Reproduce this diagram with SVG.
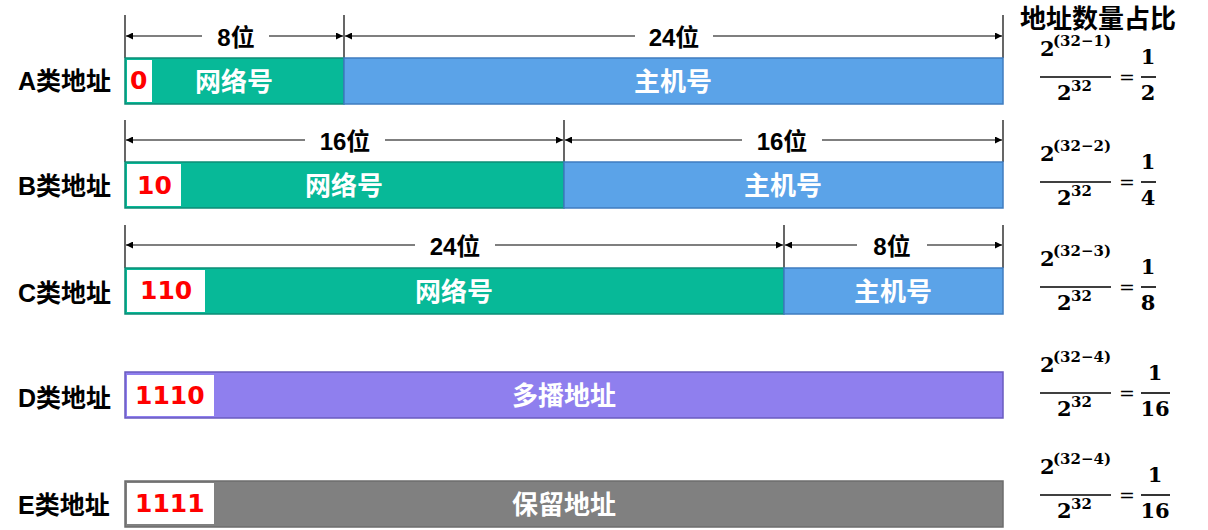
<svg xmlns="http://www.w3.org/2000/svg" width="1208" height="530" viewBox="0 0 1208 530">
<defs>
<marker id="ah" viewBox="0 0 10 10" refX="10" refY="5" markerWidth="8" markerHeight="7" markerUnits="userSpaceOnUse" orient="auto-start-reverse">
<path d="M0,0 L10,5 L0,10 z" fill="#000"/>
</marker>
<style>
.lbl{font-family:"Liberation Sans","Noto Sans CJK SC",sans-serif;font-weight:bold;font-size:25px;fill:#000}
.bit{font-family:"Liberation Sans","Noto Sans CJK SC",sans-serif;font-weight:bold;font-size:24px;fill:#000;text-anchor:middle}
.in{font-family:"Noto Sans CJK SC",sans-serif;font-weight:bold;font-size:26px;fill:#fff;text-anchor:middle}
.red{font-family:"DejaVu Sans",sans-serif;font-weight:bold;font-size:25px;fill:#ff0000}
.tick{stroke:#000;stroke-width:1.2}
.dim{stroke:#000;stroke-width:1.2;fill:none}
.net{fill:#07b998;stroke:#0c8d76;stroke-width:1.5}
.host{fill:#5ba3e8;stroke:#3f7cc0;stroke-width:1.5}
.multi{fill:#8f7fee;stroke:#6a5bc0;stroke-width:1.5}
.res{fill:#808080;stroke:#6c6c6c;stroke-width:1.5}
.wb{fill:#fff}
.m{font-family:"DejaVu Serif","Liberation Serif",serif;font-weight:bold;fill:#000}
.mb{font-size:21px}
.ms{font-size:15px}
.eq{font-family:"DejaVu Serif",serif;font-size:19px;fill:#000}
.fl{stroke:#000;stroke-width:1.6}
</style>
</defs>

<text id="title" class="lbl" x="1020" y="28" style="font-size:26px">地址数量占比</text>

<g id="connectors">
<line class="tick" x1="125" y1="15" x2="125" y2="58"/>
<line class="tick" x1="344" y1="15" x2="344" y2="58"/>
<line class="tick" x1="1003" y1="15" x2="1003" y2="58"/>
<line class="dim" x1="202" y1="36" x2="126" y2="36" marker-end="url(#ah)"/>
<line class="dim" x1="269" y1="36" x2="343" y2="36" marker-end="url(#ah)"/>
<line class="dim" x1="635" y1="36" x2="345" y2="36" marker-end="url(#ah)"/>
<line class="dim" x1="713" y1="36" x2="1002" y2="36" marker-end="url(#ah)"/>
<line class="tick" x1="125" y1="120" x2="125" y2="162"/>
<line class="tick" x1="564" y1="120" x2="564" y2="162"/>
<line class="tick" x1="1003" y1="120" x2="1003" y2="162"/>
<line class="dim" x1="305" y1="140" x2="126" y2="140" marker-end="url(#ah)"/>
<line class="dim" x1="385" y1="140" x2="563" y2="140" marker-end="url(#ah)"/>
<line class="dim" x1="742" y1="140" x2="565" y2="140" marker-end="url(#ah)"/>
<line class="dim" x1="822" y1="140" x2="1002" y2="140" marker-end="url(#ah)"/>
<line class="tick" x1="125" y1="225" x2="125" y2="268"/>
<line class="tick" x1="784" y1="225" x2="784" y2="268"/>
<line class="tick" x1="1003" y1="225" x2="1003" y2="268"/>
<line class="dim" x1="415" y1="245" x2="126" y2="245" marker-end="url(#ah)"/>
<line class="dim" x1="495" y1="245" x2="783" y2="245" marker-end="url(#ah)"/>
<line class="dim" x1="857" y1="245" x2="785" y2="245" marker-end="url(#ah)"/>
<line class="dim" x1="927" y1="245" x2="1002" y2="245" marker-end="url(#ah)"/>
</g>

<g id="bits">
<text class="bit" x="236" y="46">8位</text>
<text class="bit" x="674" y="46">24位</text>
<text class="bit" x="345" y="150">16位</text>
<text class="bit" x="782" y="150">16位</text>
<text class="bit" x="455" y="255">24位</text>
<text class="bit" x="892" y="255">8位</text>
</g>

<g id="rowA">
<text class="lbl" x="18" y="90">A类地址</text>
<rect class="net" x="125" y="58" width="219" height="46"/>
<rect class="host" x="344" y="58" width="659" height="46"/>
<rect class="wb" x="127" y="60" width="25" height="42"/>
<text class="red" x="130" y="89">0</text>
<text class="in" x="234" y="91">网络号</text>
<text class="in" x="673" y="91">主机号</text>
</g>

<g id="rowB">
<text class="lbl" x="18" y="195">B类地址</text>
<rect class="net" x="125" y="162" width="439" height="46"/>
<rect class="host" x="564" y="162" width="439" height="46"/>
<rect class="wb" x="127" y="164" width="54" height="42"/>
<text class="red" x="137" y="194">10</text>
<text class="in" x="344" y="195">网络号</text>
<text class="in" x="783" y="195">主机号</text>
</g>

<g id="rowC">
<text class="lbl" x="18" y="302">C类地址</text>
<rect class="net" x="125" y="268" width="659" height="46"/>
<rect class="host" x="784" y="268" width="219" height="46"/>
<rect class="wb" x="127" y="270" width="78" height="42"/>
<text class="red" x="140" y="299">110</text>
<text class="in" x="454" y="301">网络号</text>
<text class="in" x="893" y="301">主机号</text>
</g>

<g id="rowD">
<text class="lbl" x="18" y="407">D类地址</text>
<rect class="multi" x="125" y="372" width="878" height="46"/>
<rect class="wb" x="127" y="375" width="87" height="41"/>
<text class="red" x="135" y="404">1110</text>
<text class="in" x="564" y="405">多播地址</text>
</g>

<g id="rowE">
<text class="lbl" x="18" y="514">E类地址</text>
<rect class="res" x="125" y="481" width="878" height="46"/>
<rect class="wb" x="127" y="483" width="87" height="41"/>
<text class="red" x="135" y="512">1111</text>
<text class="in" x="564" y="514">保留地址</text>
</g>

<g id="fracA">
<text class="m mb" x="1040" y="56">2</text>
<text class="m ms" x="1053" y="46">(32−1)</text>
<line class="fl" x1="1040" y1="77" x2="1111" y2="77"/>
<text class="m mb" x="1057" y="100">2</text>
<text class="m ms" x="1071" y="91">32</text>
<text class="eq" x="1119" y="84">=</text>
<text class="m mb" x="1148" y="64" text-anchor="middle">1</text>
<line class="fl" x1="1141" y1="77" x2="1156" y2="77"/>
<text class="m mb" x="1148" y="100" text-anchor="middle">2</text>
</g>

<g id="fracB">
<text class="m mb" x="1040" y="161">2</text>
<text class="m ms" x="1053" y="151">(32−2)</text>
<line class="fl" x1="1040" y1="182" x2="1111" y2="182"/>
<text class="m mb" x="1057" y="205">2</text>
<text class="m ms" x="1071" y="196">32</text>
<text class="eq" x="1119" y="189">=</text>
<text class="m mb" x="1148" y="169" text-anchor="middle">1</text>
<line class="fl" x1="1141" y1="182" x2="1156" y2="182"/>
<text class="m mb" x="1148" y="205" text-anchor="middle">4</text>
</g>

<g id="fracC">
<text class="m mb" x="1040" y="266">2</text>
<text class="m ms" x="1053" y="256">(32−3)</text>
<line class="fl" x1="1040" y1="287" x2="1111" y2="287"/>
<text class="m mb" x="1057" y="310">2</text>
<text class="m ms" x="1071" y="301">32</text>
<text class="eq" x="1119" y="294">=</text>
<text class="m mb" x="1148" y="274" text-anchor="middle">1</text>
<line class="fl" x1="1141" y1="287" x2="1156" y2="287"/>
<text class="m mb" x="1148" y="310" text-anchor="middle">8</text>
</g>

<g id="fracD">
<text class="m mb" x="1040" y="372">2</text>
<text class="m ms" x="1053" y="362">(32−4)</text>
<line class="fl" x1="1040" y1="393" x2="1111" y2="393"/>
<text class="m mb" x="1057" y="416">2</text>
<text class="m ms" x="1071" y="407">32</text>
<text class="eq" x="1119" y="400">=</text>
<text class="m mb" x="1155" y="380" text-anchor="middle">1</text>
<line class="fl" x1="1141" y1="393" x2="1170" y2="393"/>
<text class="m mb" x="1155" y="416" text-anchor="middle">16</text>
</g>

<g id="fracE">
<text class="m mb" x="1040" y="474">2</text>
<text class="m ms" x="1053" y="464">(32−4)</text>
<line class="fl" x1="1040" y1="495" x2="1111" y2="495"/>
<text class="m mb" x="1057" y="518">2</text>
<text class="m ms" x="1071" y="509">32</text>
<text class="eq" x="1119" y="502">=</text>
<text class="m mb" x="1155" y="482" text-anchor="middle">1</text>
<line class="fl" x1="1141" y1="495" x2="1170" y2="495"/>
<text class="m mb" x="1155" y="518" text-anchor="middle">16</text>
</g>
</svg>
